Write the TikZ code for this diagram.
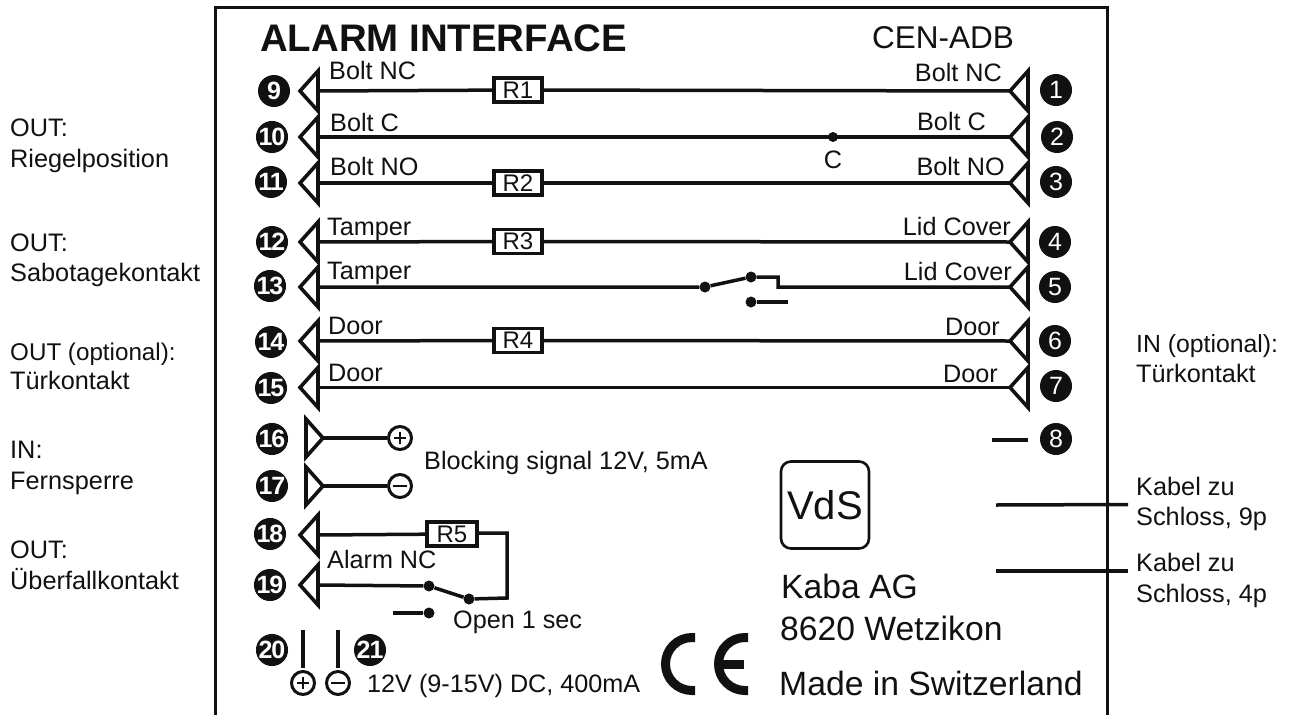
\documentclass[tikz,border=0pt]{standalone}
\usepackage{fontspec}
\setmainfont{Liberation Sans}
\usetikzlibrary{calc}
\definecolor{ink}{HTML}{111111}
\newcommand{\fsz}[1]{\fontsize{#1}{#1}\selectfont}
\tikzset{
  wire/.style={draw=ink,line width=3.5pt},
  term/.style={draw=ink,line width=3.6pt,fill=white,line join=miter,miter limit=10},
  badge/.style={circle,fill=ink,text=white,inner sep=0pt,minimum size=32pt,font=\fsz{25}\addfontfeature{LetterSpace=-4}\bfseries},
  badger/.style={circle,fill=ink,text=white,inner sep=0pt,minimum size=32pt,font=\fsz{25}},
  res/.style={draw=ink,line width=3.6pt,fill=white,inner sep=0pt,minimum width=48pt,minimum height=24pt,font=\fsz{24}\color{ink}},
  lab/.style={inner sep=0pt,font=\fsz{25.2}\color{ink}},
  lbw/.style={lab,anchor=base west},
  lbe/.style={lab,anchor=base east},
  side/.style={inner sep=0pt,anchor=base west,font=\fsz{25.3}\color{ink}},
  big/.style={inner sep=0pt,anchor=base west,font=\fsz{33.7}\color{ink}},
  pole/.style={circle,draw=ink,line width=3pt,fill=white,inner sep=0pt,minimum size=23pt},
  jdot/.style={circle,fill=ink,inner sep=0pt,minimum size=10pt},
  cemark/.style={draw=ink,line width=9pt},
}
% left-pointing terminal on the left side; coordinate #1 is the middle of its flat side
\newcommand{\termL}[3]{\coordinate (#1) at (#2,#3);\draw[term] (#2,#3-20) -- (#2-18,#3) -- (#2,#3+20) -- cycle;}
% left-pointing terminal on the right side; coordinate #1 is its tip
\newcommand{\termA}[3]{\coordinate (#1) at (#2-18,#3);\draw[term] (#2,#3-20) -- (#2-18,#3) -- (#2,#3+20) -- cycle;}
% right-pointing terminal; coordinate #1 is its tip
\newcommand{\termR}[3]{\coordinate (#1) at (#2,#3);\draw[term] (#2-17,#3-19) -- (#2,#3) -- (#2-17,#3+19) -- cycle;}
\begin{document}
\begin{tikzpicture}[x=1pt,y=-1pt]
\useasboundingbox (0,0) rectangle (1291,715);
\fill[white] (0,0) rectangle (1291,715);
% frame
\coordinate (fa) at (215.5,715); \coordinate (fb) at (215.5,7); \coordinate (fc) at (1107,7); \coordinate (fd) at (1107,715);
\draw[draw=ink,line width=3pt] (fa) -- (fb) -- (fc) -- (fd);
% titles
\node[inner sep=0pt,anchor=base west,font=\fsz{38.4}\bfseries\color{ink}] (title) at (260,51.5) {ALARM INTERFACE};
\node[inner sep=0pt,anchor=base east,font=\fsz{31.5}\color{ink}] (model) at (1014,48) {CEN-ADB};
% terminals left
\termL{a9}{318}{91}\termL{a10}{318}{137}\termL{a11}{318}{183}\termL{a12}{318}{242}\termL{a13}{318}{287}\termL{a14}{318}{341}\termL{a15}{318}{387.5}\termL{a18}{318}{535}\termL{a19}{318}{585}
% terminals right
\termA{a1}{1028}{91}\termA{a2}{1028}{137}\termA{a3}{1028}{183}\termA{a4}{1028}{242}\termA{a5}{1028}{287}\termA{a6}{1028}{341}\termA{a7}{1028}{387.5}
\termR{a16}{323}{438}\termR{a17}{323}{486}
% badges
\foreach \n/\x/\y in {9/274/91,10/272/137,11/271/182,12/272/242,13/270/286,14/271/342,15/271/388,16/272/439,17/272/486,18/270/534,19/270/585,20/272/650,21/370/650}
  \node[badge] (n\n) at (\x,\y) {\n};
\foreach \n/\x/\y in {1/1056/90,2/1057/137,3/1056/182,4/1055/242,5/1055/287,6/1055/341,7/1056/386,8/1056/439}
  \node[badger] (n\n) at (\x,\y) {\n};
% resistors
\node[res] (R1) at (518,90) {R1};
\node[res] (R2) at (518,183) {R2};
\node[res] (R3) at (518,241.5) {R3};
\node[res] (R4) at (518,340.5) {R4};
\node[res,minimum width=50pt] (R5) at (452,534) {R5};
% wires
\draw[wire] (a9) -- (R1) (R1) -- (a1);
\draw[wire] (a10) -- (a2);
\draw[wire] (a11) -- (R2) (R2) -- (a3);
\draw[wire] (a12) -- (R3) (R3) -- (a4);
\draw[wire] (a14) -- (R4) (R4) -- (a6);
\draw[wire] (a15) -- (a7);
% junction C
\node[jdot] (jc) at (833,137) {};
\node[lab,anchor=base] (clab) at (833,168) {C};
% tamper switch
\node[jdot,minimum size=11pt] (s1) at (705,287) {};
\node[jdot,minimum size=11pt] (s2) at (751,277) {};
\node[jdot,minimum size=11pt] (s3) at (751,302) {};
\coordinate (s4) at (778,277); \coordinate (s5) at (778,287); \coordinate (s6) at (788,302);
\draw[wire] (a13) -- (s1) -- (s2) -- (s4) -- (s5) -- (a5);
\draw[wire] (s3) -- (s6);
% pin 8
\coordinate (e8) at (992,440); \coordinate (f8) at (1028,440);
\draw[wire] (e8) -- (f8);
% blocking inputs
\node[pole] (pp) at (400,438) {};
\draw[draw=ink,line width=2pt] (pp.center) +(-6,0) -- +(6,0) (pp.center) +(0,-6) -- +(0,6);
\node[pole] (pm) at (400,486) {};
\draw[draw=ink,line width=2pt] (pm.center) +(-7,0) -- +(7,0);
\draw[wire] (a16) -- (pp);
\draw[wire] (a17) -- (pm);
% alarm
\node[jdot,minimum size=11pt] (d1) at (429,586) {};
\node[jdot,minimum size=11pt] (d2) at (469,599) {};
\node[jdot,minimum size=11pt] (d3) at (429,613) {};
\coordinate (k1) at (507,533); \coordinate (k2) at (507,598); \coordinate (k3) at (393,613);
\draw[wire] (a18) -- (R5);
\draw[wire,line join=miter] (R5.east |- k1) -- (k1) -- (k2) -- (d2) -- (d1) -- (a19);
\draw[wire] (k3) -- (d3);
% supply
\node[pole] (p20) at (303,683) {};
\draw[draw=ink,line width=2pt] (p20.center) +(-6,0) -- +(6,0) (p20.center) +(0,-6) -- +(0,6);
\node[pole] (p21) at (338,683) {};
\draw[draw=ink,line width=2pt] (p21.center) +(-7,0) -- +(7,0);
\coordinate (t20) at (303,630); \coordinate (t21) at (338,630);
\coordinate (u20) at (303,668); \coordinate (u21) at (338,668);
\draw[wire] (t20) -- (u20);
\draw[wire,line width=4pt] (t21) -- (u21);
% labels
\node[lbw] (l9) at (329,79) {Bolt NC};
\node[lbw] (l10) at (330,131) {Bolt C};
\node[lbw] (l11) at (330,175) {Bolt NO};
\node[lbw] (l12) at (327,235) {Tamper};
\node[lbw] (l13) at (327,279) {Tamper};
\node[lbw] (l14) at (328,334) {Door};
\node[lbw] (l15) at (328,381.5) {Door};
\node[lbw] (l19) at (327,568) {Alarm NC};
\node[lbe] (l1) at (1002,81) {Bolt NC};
\node[lbe] (l2) at (986,130.5) {Bolt C};
\node[lbe] (l3) at (1005,175) {Bolt NO};
\node[lbe] (l4) at (1011,235) {Lid Cover};
\node[lbe] (l5) at (1012,280) {Lid Cover};
\node[lbe] (l6) at (1000,335) {Door};
\node[lbe] (l7) at (998,382) {Door};
\node[lbw] (block) at (424,469) {Blocking signal 12V, 5mA};
\node[lbw] (open) at (453,628) {Open 1 sec};
\node[lbw] (pwr) at (367,692) {12V (9-15V) DC, 400mA};
% side notes left
\node[side] (o1) at (10,136.7) {OUT:};
\node[side] (o2) at (10,167.7) {Riegelposition};
\node[side] (o3) at (10,251.7) {OUT:};
\node[side] (o4) at (10,281.7) {Sabotagekontakt};
\node[side,font=\fsz{24.2}\color{ink}] (o5) at (10,360) {OUT (optional):};
\node[side] (o6) at (10,389.5) {Türkontakt};
\node[side] (o7) at (10,458) {IN:};
\node[side] (o8) at (10,489) {Fernsperre};
\node[side] (o9) at (10,558) {OUT:};
\node[side] (o10) at (10,589) {Überfallkontakt};
% side notes right
\node[side,font=\fsz{24.8}\color{ink}] (r1) at (1136,352) {IN (optional):};
\node[side] (r2) at (1136,382.7) {Türkontakt};
\node[side] (r3) at (1136,495.7) {Kabel zu};
\node[side] (r4) at (1136,525.7) {Schloss, 9p};
\node[side] (r5) at (1136,571.7) {Kabel zu};
\node[side] (r6) at (1136,602.7) {Schloss, 4p};
\coordinate (c1) at (996,505); \coordinate (c2) at (1128,504.5);
\coordinate (c3) at (996,571); \coordinate (c4) at (1128,571);
\draw[wire] (c1) -- (c2);
\draw[wire] (c3) -- (c4);
% VdS
\node[draw=ink,line width=2.6pt,rounded corners=10pt,minimum width=88pt,minimum height=87pt,inner sep=0pt,font=\fsz{40}\color{ink}] (vds) at (825,505) {VdS};
\node[big] (k) at (781,598) {Kaba AG};
\node[big] (w) at (780,640) {8620 Wetzikon};
\node[big] (m) at (779,695) {Made in Switzerland};
% CE mark
\draw[cemark] (695,637.5) -- (692,637.5) arc[start angle=90,end angle=270,radius=26.5pt] -- (695,690.5);
\draw[cemark] (748,637.5) -- (745,637.5) arc[start angle=90,end angle=270,radius=26.5pt] -- (748,690.5);
\draw[cemark] (721,664.5) -- (744,664.5);
\end{tikzpicture}
\end{document}
